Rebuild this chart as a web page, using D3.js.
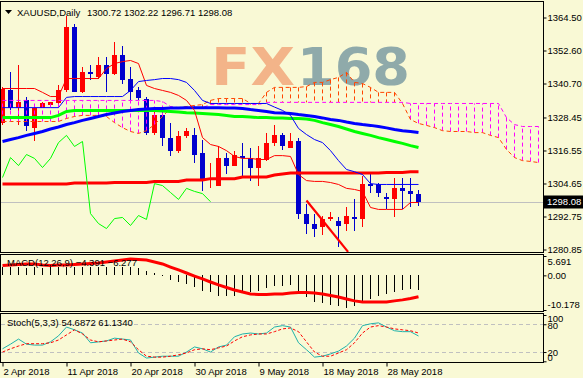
<!DOCTYPE html>
<html><head><meta charset="utf-8">
<script src="https://cdn.jsdelivr.net/npm/d3@7/dist/d3.min.js"></script>
<style>
html,body{margin:0;padding:0;background:#F9F9D5;}
svg{display:block;}
text{font-family:"Liberation Sans",Arial,sans-serif;font-size:9.5px;}
</style></head><body>
<svg id="c" width="583" height="378"></svg>
<script>
// ---------------- DATA ----------------
const dateLabels = ["2 Apr 2018","11 Apr 2018","20 Apr 2018","30 Apr 2018","9 May 2018","18 May 2018","28 May 2018"];
const dateLabelIdx = [0,8,16,24,32,40,48];
const priceTicks = [1364.50,1352.60,1340.70,1328.45,1316.55,1304.65,1292.75,1280.85];
const macdTicks = [5.691,0,-10.178];
const macdTickLabels = ["5.691","0.00","-10.178"];
const stochTicks = [100,80,20,0];
const stochLevels = [80,20];
const bidPrice = 1298.08;

const opens = [1326.3,1338.5,1332.0,1334.6,1324.8,1332.0,1333.1,1333.5,1338.2,1360.9,1337.8,1345.0,1343.2,1347.2,1344.3,1350.8,1342.5,1338.2,1335.0,1322.7,1329.2,1321.2,1316.2,1321.6,1322.0,1315.5,1306.1,1303.9,1314.0,1311.1,1314.4,1314.0,1310.4,1313.3,1319.1,1322.0,1317.6,1319.8,1293.8,1290.2,1288.8,1291.7,1291.3,1289.9,1292.7,1292.0,1304.6,1304.3,1299.6,1298.9,1302.9,1302.1,1300.72];
const highs = [1339.6,1344.7,1347.2,1335.7,1332.4,1333.9,1334.2,1340.0,1365.2,1362.3,1346.5,1347.2,1350.1,1350.1,1355.5,1354.4,1346.8,1339.3,1335.7,1331.0,1331.0,1326.6,1323.7,1324.8,1324.8,1320.2,1312.2,1318.3,1315.8,1316.5,1319.1,1317.3,1318.0,1323.0,1325.9,1323.0,1322.7,1320.9,1297.4,1293.8,1293.1,1294.2,1292.4,1296.3,1299.2,1307.5,1307.9,1305.0,1301.4,1306.8,1306.8,1306.8,1302.22];
const lows = [1325.6,1331.0,1325.6,1323.7,1319.8,1331.7,1332.4,1332.8,1337.5,1337.5,1337.1,1342.1,1342.5,1337.5,1343.9,1340.7,1334.6,1334.6,1322.0,1322.0,1318.3,1314.7,1315.8,1321.2,1311.9,1301.8,1303.2,1303.6,1307.9,1310.8,1307.5,1305.7,1303.9,1312.6,1318.3,1316.9,1317.6,1292.0,1286.6,1285.2,1285.9,1291.3,1281.9,1287.7,1287.7,1288.8,1301.4,1299.6,1295.6,1292.4,1295.6,1296.0,1296.71];
const closes = [1338.9,1331.7,1334.2,1325.2,1332.0,1333.5,1333.9,1338.5,1360.9,1337.8,1345.0,1344.3,1347.2,1344.3,1350.8,1342.1,1337.5,1335.3,1322.7,1329.2,1321.2,1316.2,1321.6,1323.4,1315.1,1306.4,1306.8,1314.0,1311.1,1315.1,1313.7,1310.4,1313.7,1319.4,1322.0,1318.0,1319.8,1293.8,1290.2,1288.4,1292.0,1292.4,1289.5,1293.1,1291.7,1304.6,1303.9,1301.4,1298.9,1302.9,1301.8,1301.0,1298.08];

const maBlue = [1319.8,1320.5,1321.2,1322.0,1322.7,1323.4,1324.3,1325.0,1325.9,1326.6,1327.4,1328.1,1328.8,1329.5,1330.1,1330.6,1331.0,1331.3,1331.5,1331.7,1331.7,1331.9,1331.9,1332.0,1332.0,1332.0,1332.0,1332.0,1331.9,1331.9,1331.7,1331.3,1331.0,1330.6,1330.2,1330.1,1329.9,1329.5,1329.2,1328.8,1328.3,1327.7,1327.4,1326.8,1326.3,1325.9,1325.6,1325.2,1324.7,1324.1,1323.7,1323.4,1323.0];
const maGreen = [1328.4,1328.4,1328.4,1328.4,1328.4,1328.4,1328.4,1329.2,1330.6,1331.0,1331.0,1331.0,1331.0,1331.0,1331.0,1331.0,1331.0,1331.0,1331.0,1331.0,1330.8,1330.6,1330.4,1330.2,1330.1,1329.9,1329.7,1329.5,1329.2,1328.8,1328.8,1328.6,1328.4,1328.4,1328.3,1328.3,1328.1,1328.1,1327.9,1327.4,1326.6,1325.9,1325.2,1324.3,1323.4,1322.7,1322.0,1321.2,1320.5,1319.8,1319.1,1318.3,1317.6];
const maRed = [1304.5,1304.5,1304.5,1304.5,1304.5,1304.5,1304.5,1304.5,1304.5,1304.8,1304.8,1304.8,1304.8,1304.8,1305.0,1305.0,1305.0,1305.0,1305.0,1305.4,1305.4,1305.4,1305.4,1305.9,1305.9,1305.9,1306.4,1306.4,1306.4,1306.4,1307.0,1307.0,1307.0,1307.0,1307.7,1308.1,1308.4,1308.4,1308.4,1308.4,1308.4,1308.4,1308.4,1308.4,1308.4,1308.4,1308.4,1308.4,1308.6,1308.6,1308.6,1308.9,1308.9];
const tenkan = [1338.9,1338.9,1338.9,1338.9,1338.9,1337.5,1336.0,1336.0,1342.5,1342.5,1342.5,1342.5,1342.5,1346.1,1347.9,1348.6,1349.0,1347.9,1340.0,1338.9,1338.2,1337.5,1336.4,1334.6,1331.0,1321.2,1318.7,1318.0,1316.5,1314.4,1313.7,1313.7,1313.3,1313.3,1314.7,1314.7,1314.4,1307.9,1305.7,1305.4,1305.4,1305.0,1304.3,1302.9,1302.5,1301.8,1296.0,1295.3,1295.3,1295.3,1295.3,1297.8,1297.8];
const kijun = [1332.0,1332.0,1332.0,1332.0,1332.0,1332.0,1332.0,1332.0,1335.7,1336.0,1336.0,1336.0,1336.0,1336.0,1336.0,1336.0,1338.2,1341.4,1341.8,1342.1,1342.5,1342.5,1342.1,1341.1,1338.2,1334.6,1333.5,1333.5,1333.5,1333.5,1333.5,1333.5,1333.5,1333.5,1332.2,1331.0,1329.2,1324.5,1322.3,1320.5,1319.4,1316.5,1312.9,1309.7,1308.9,1307.9,1304.6,1304.3,1304.3,1304.3,1304.3,1304.3,1304.3];
const spanA = [1327.0,1327.0,1327.0,1327.0,1327.0,1327.0,1327.0,1327.0,1328.1,1328.8,1329.2,1329.2,1329.2,1328.8,1326.6,1324.8,1323.4,1322.7,1323.7,1325.9,1328.8,1331.7,1332.0,1332.4,1332.8,1333.1,1334.6,1335.3,1335.3,1335.3,1335.3,1333.5,1333.5,1337.5,1339.3,1339.3,1339.3,1339.3,1339.6,1341.1,1341.1,1342.1,1342.9,1344.7,1341.1,1340.7,1339.3,1337.5,1337.5,1337.5,1333.5,1327.7,1326.3,1325.6,1324.8,1323.7,1323.4,1323.4,1323.4,1323.0,1323.0,1322.0,1321.2,1316.9,1314.0,1312.9,1312.6,1312.2];
const spanB = [1334.6,1334.6,1334.6,1334.6,1334.6,1334.6,1334.6,1334.6,1334.6,1334.6,1334.6,1334.6,1334.6,1334.6,1334.6,1334.6,1334.6,1334.6,1334.6,1334.6,1334.2,1332.4,1332.0,1332.0,1332.0,1332.0,1333.1,1333.1,1333.1,1333.1,1333.1,1333.1,1333.1,1333.9,1333.9,1333.9,1333.9,1333.9,1333.9,1333.9,1333.9,1333.9,1333.9,1333.9,1333.9,1333.9,1333.9,1333.9,1333.9,1333.9,1333.9,1333.5,1333.5,1333.5,1333.5,1333.5,1333.5,1333.5,1333.5,1333.5,1333.5,1333.5,1333.5,1328.4,1325.9,1325.2,1325.2,1325.2];
const chikouShift = 26;
const trendLine = [{i:38,p:1298.5},{i:43.2,p:1280.0}];

const macdMain = [2.4,2.4,2.4,2.3,2.4,2.3,2.4,2.4,2.4,2.4,2.4,2.4,2.4,2.4,2.4,2.4,2.4,2.3,1.4,0.7,0.2,-1.5,-2.0,-2.6,-3.5,-4.5,-4.9,-6.0,-6.0,-6.0,-5.0,-5.0,-4.6,-3.8,-3.0,-3.1,-2.8,-5.0,-6.4,-7.9,-8.2,-8.7,-9.1,-9.6,-8.9,-8.0,-7.0,-6.0,-5.6,-4.9,-4.3,-3.9,-4.391];
const macdSignal = [2.9,3.05,3.2,3.35,3.35,3.05,2.9,3.05,3.05,3.2,3.35,3.5,3.65,3.95,4.25,4.5,4.8,4.65,4.5,3.95,3.35,2.45,1.6,0.7,-0.2,-1.05,-1.95,-2.8,-3.55,-4.3,-4.9,-5.45,-5.6,-5.6,-5.45,-5.45,-5.15,-5.0,-5.0,-5.15,-5.45,-5.9,-6.35,-6.95,-7.5,-7.8,-7.8,-7.8,-7.8,-7.5,-7.2,-6.8,-6.277];
const stochK = [27,37,48,37,35,35,42,55,74,68,61,40,42,44,50,48,46,18,7,9,11,11,11,20,31,27,20,31,35,53,59,61,59,61,74,77,74,40,25,9,11,16,22,33,50,77,81,83,74,66,64,64,54.6872];
const stochD = [20,27,33,38,38,38,40,46,57,68,59,46,42,44,46,48,42,25,11,9,9,11,14,18,25,27,25,29,33,44,53,57,59,59,64,70,72,64,42,20,11,11,18,25,40,61,74,77,74,70,68,66,61.134];

// ---------------- CHART ----------------
const W=583,H=378;
const FONT='"Liberation Sans",Arial,sans-serif';
const C = {bg:"#F9F9D5", up:"#FF0000", dn:"#0000CD", blue:"#0000FF", green:"#00FF00", red:"#FF0000",
  spanA:"#FF4500", spanB:"#FF00FF", stK:"#20B2AA", grey:"#C0C0C0"};
const svg = d3.select("#c");
svg.append("rect").attr("width",W).attr("height",H).attr("fill",C.bg);

const x = d3.scaleLinear().domain([0,67]).range([2.5,538.5]);
const y = d3.scaleLinear().domain([1280.85,1364.50]).range([249.5,17.5]);
const yM = d3.scaleLinear().domain([-10.178,5.691]).range([310,256]);
const yS = d3.scaleLinear().domain([0,100]).range([361.3,315]);

const defs = svg.append("defs");
defs.append("clipPath").attr("id","cm").append("rect").attr("x",1).attr("y",2).attr("width",542).attr("height",250);
defs.append("clipPath").attr("id","cmacd").append("rect").attr("x",1).attr("y",255).attr("width",542).attr("height",56);
defs.append("clipPath").attr("id","cst").append("rect").attr("x",1).attr("y",314).attr("width",542).attr("height",48);

const gM = svg.append("g").attr("clip-path","url(#cm)");

// watermark
gM.append("text").text("FX").attr("x",211).attr("y",85).attr("textLength",84).attr("lengthAdjust","spacingAndGlyphs")
  .style("font-family","DejaVu Sans").style("font-weight","bold").style("font-size","52px").attr("fill","#F3B489");
gM.append("text").text("168").attr("x",297).attr("y",85).attr("textLength",113).attr("lengthAdjust","spacingAndGlyphs")
  .style("font-family","DejaVu Sans").style("font-weight","bold").style("font-size","52px").attr("fill","#8FAAAA");

// bid line
gM.append("line").attr("x1",1).attr("x2",543).attr("y1",Math.round(y(bidPrice))+0.5).attr("y2",Math.round(y(bidPrice))+0.5)
  .attr("stroke",C.grey).attr("stroke-width",1);

// candles
const bars = closes.map((c,i)=>({i,o:opens[i],h:highs[i],l:lows[i],c}));
const gc = gM.append("g").attr("shape-rendering","crispEdges");
gc.selectAll(".wk").data(bars).join("rect").attr("x",d=>x(d.i)-0.5).attr("width",1)
  .attr("y",d=>y(d.h)).attr("height",d=>Math.max(1,y(d.l)-y(d.h))).attr("fill",d=>d.c>=d.o?C.up:C.dn);
gc.selectAll(".bd").data(bars).join("rect").attr("x",d=>x(d.i)-2.5).attr("width",5)
  .attr("y",d=>y(Math.max(d.o,d.c))).attr("height",d=>Math.max(1,Math.abs(y(d.o)-y(d.c)))).attr("fill",d=>d.c>=d.o?C.up:C.dn);

// cloud
const cloud = spanA.map((a,i)=>({i,a,b:spanB[i]}));
gM.selectAll(".cv").data(cloud).join("line").attr("x1",d=>x(d.i)).attr("x2",d=>x(d.i))
  .attr("y1",d=>y(d.a)).attr("y2",d=>y(d.b)).attr("stroke",d=>d.a>d.b?C.spanA:C.spanB)
  .attr("stroke-width",1).attr("stroke-dasharray","4,3");
const line = d3.line().x((d,i)=>x(i)).y(d=>y(d));
gM.append("path").attr("d",line(spanB)).attr("fill","none").attr("stroke",C.spanB).attr("stroke-dasharray","4,3");
gM.append("path").attr("d",line(spanA)).attr("fill","none").attr("stroke",C.spanA).attr("stroke-dasharray","4,3");

// MAs
gM.append("path").attr("d",line(maRed)).attr("fill","none").attr("stroke",C.red).attr("stroke-width",3);
gM.append("path").attr("d",line(maGreen)).attr("fill","none").attr("stroke",C.green).attr("stroke-width",3);
gM.append("path").attr("d",line(maBlue)).attr("fill","none").attr("stroke",C.blue).attr("stroke-width",3);
// tenkan / kijun / chikou
gM.append("path").attr("d",line(tenkan)).attr("fill","none").attr("stroke",C.red).attr("stroke-width",1);
gM.append("path").attr("d",line(kijun)).attr("fill","none").attr("stroke",C.blue).attr("stroke-width",1);
gM.append("path").attr("d",line(closes.slice(chikouShift))).attr("fill","none").attr("stroke",C.green).attr("stroke-width",1);
// trend line
gM.append("path").attr("d",d3.line().x(d=>x(d.i)).y(d=>y(d.p))(trendLine)).attr("stroke",C.red).attr("stroke-width",2.2).attr("fill","none");

// MACD
const gD = svg.append("g").attr("clip-path","url(#cmacd)");
gD.append("g").attr("shape-rendering","crispEdges").selectAll("rect").data(macdMain).join("rect")
  .attr("x",(d,i)=>x(i)-0.5).attr("width",1)
  .attr("y",d=>Math.min(yM(0),yM(d))).attr("height",d=>Math.max(1,Math.abs(yM(d)-yM(0)))).attr("fill","#000");
gD.append("path").attr("d",d3.line().x((d,i)=>x(i)).y(d=>yM(d))(macdSignal)).attr("fill","none").attr("stroke",C.red).attr("stroke-width",3);

// Stoch
const gS = svg.append("g").attr("clip-path","url(#cst)");
gS.selectAll(".lv").data(stochLevels).join("line").attr("x1",1).attr("x2",543)
  .attr("y1",d=>Math.round(yS(d))+0.5).attr("y2",d=>Math.round(yS(d))+0.5)
  .attr("stroke",C.grey).attr("stroke-dasharray","4,3");
const sl = d3.line().x((d,i)=>x(i)).y(d=>yS(d));
gS.append("path").attr("d",sl(stochK)).attr("fill","none").attr("stroke",C.stK).attr("stroke-width",1);
gS.append("path").attr("d",sl(stochD)).attr("fill","none").attr("stroke",C.red).attr("stroke-width",1).attr("stroke-dasharray","3,2");

// frames
[[0.5,1.5,543,251],[0.5,254.5,543,57],[0.5,313.5,543,49]].forEach(r=>{
  svg.append("rect").attr("x",r[0]).attr("y",r[1]).attr("width",r[2]).attr("height",r[3])
    .attr("fill","none").attr("stroke","#000").attr("stroke-width",1);
});

function tidy(g){
  g.select(".domain").remove();
  g.selectAll("line").attr("stroke","#000");
  g.selectAll("text").attr("fill","#000").style("font-family",FONT).style("font-size","9.5px");
}
// price axis
const ga = svg.append("g").attr("transform","translate(543.5,0)")
  .call(d3.axisRight(y).tickValues(priceTicks).tickSize(3).tickPadding(1).tickFormat(d3.format(".2f")));
tidy(ga);
// macd axis
const gma = svg.append("g").attr("transform","translate(543.5,0)")
  .call(d3.axisRight(yM).tickValues(macdTicks).tickSize(3).tickPadding(1).tickFormat((d,i)=>macdTickLabels[i]));
tidy(gma);
gma.selectAll("text").attr("y",(d,i)=>[5,0,-6][i]);
// stoch axis
const gsa = svg.append("g").attr("transform","translate(543.5,0)")
  .call(d3.axisRight(yS).tickValues(stochTicks).tickSize(3).tickPadding(1).tickFormat(d3.format("d")));
tidy(gsa);
gsa.selectAll("text").attr("y",(d,i)=>[3,1,0,-4][i]);
// time axis
const gt = svg.append("g").attr("transform","translate(0,362.5)")
  .call(d3.axisBottom(x).tickValues(dateLabelIdx).tickSize(4).tickPadding(2).tickFormat((d,i)=>dateLabels[i]));
tidy(gt);
gt.selectAll("text").attr("text-anchor","start").attr("x",0.5);

// bid label
const by = y(bidPrice);
svg.append("rect").attr("x",544).attr("y",Math.round(by)-6.5).attr("width",39).attr("height",13).attr("fill","#000");
svg.append("text").attr("x",547).attr("y",by).attr("dy","0.35em").attr("fill","#fff").text(d3.format(".2f")(bidPrice));

// headers
svg.append("path").attr("d","M5,10 L12,10 L8.5,14 Z").attr("fill","#000");
svg.append("text").attr("x",17).attr("y",15.5).attr("fill","#000").text("XAUUSD,Daily");
svg.append("text").attr("x",87).attr("y",15.5).attr("fill","#000")
  .text([opens[52],highs[52],lows[52],closes[52]].map(d3.format(".2f")).join(" "));
svg.append("text").attr("x",7).attr("y",266).attr("fill","#000")
  .text("MACD(12,26,9) "+d3.format(".3f")(macdMain[52])+" "+d3.format(".3f")(macdSignal[52]));
svg.append("text").attr("x",7).attr("y",326).attr("fill","#000")
  .text("Stoch(5,3,3) "+d3.format(".4f")(stochK[52])+" "+d3.format(".4f")(stochD[52]));
</script>
</body></html>
